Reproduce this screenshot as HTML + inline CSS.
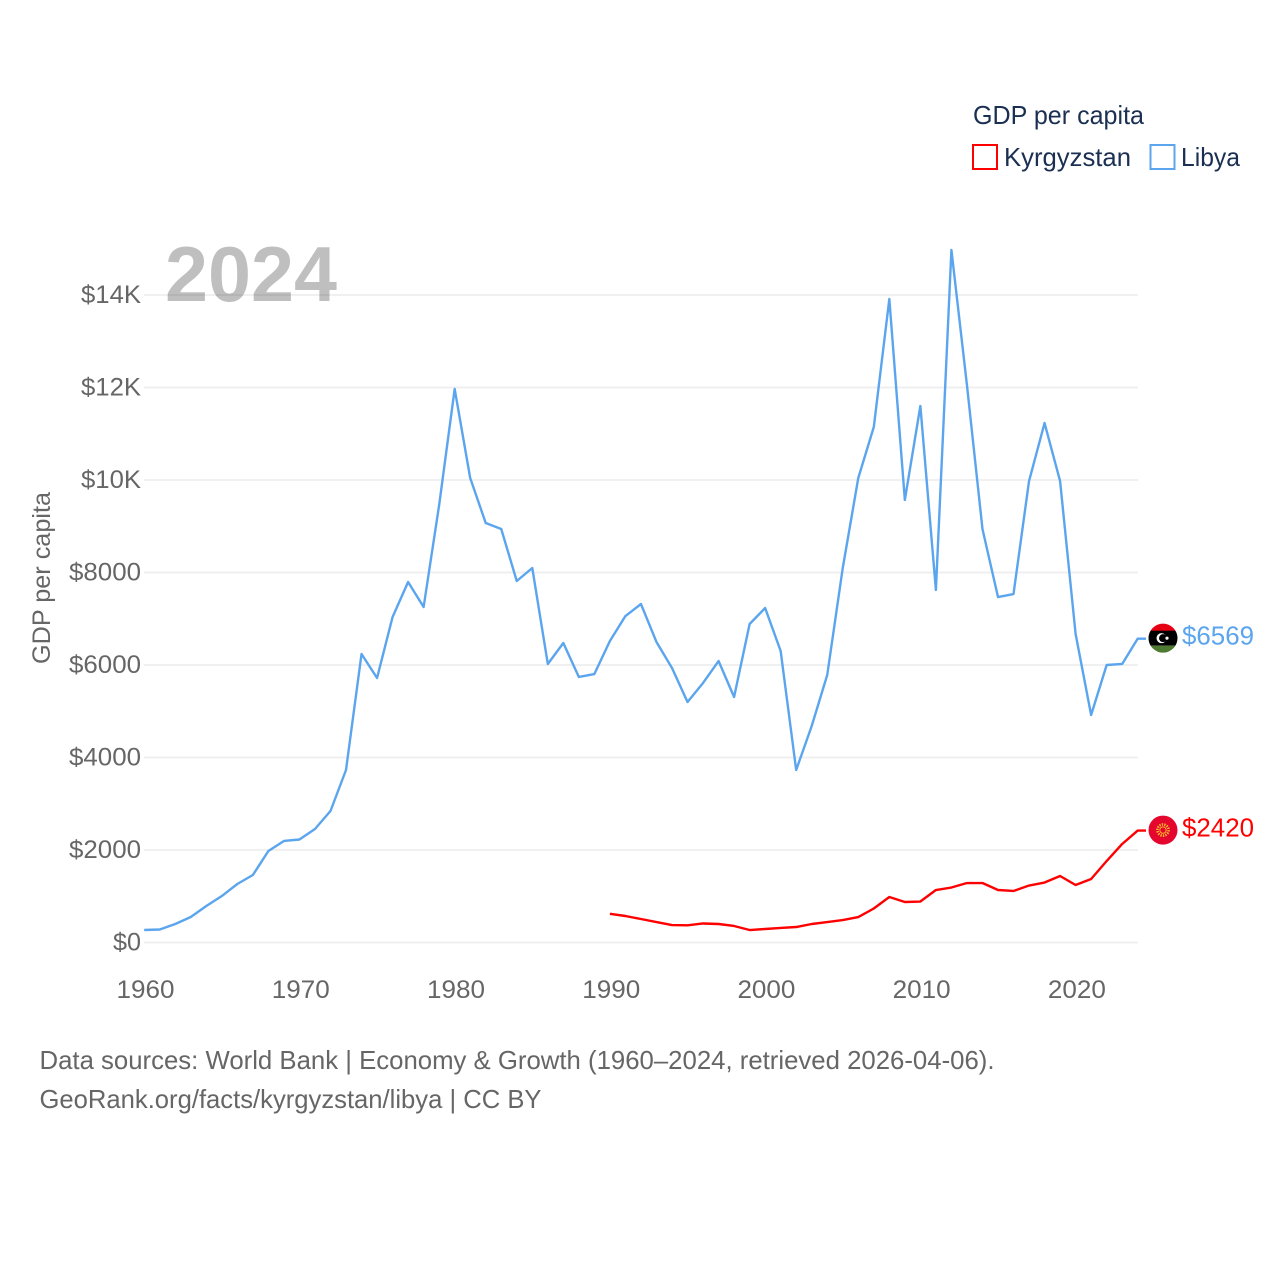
<!DOCTYPE html>
<html lang="en">
<head>
<meta charset="utf-8">
<title>GDP per capita: Kyrgyzstan and Libya</title>
<style>
html,body{margin:0;padding:0;background:#fff;width:1280px;height:1280px;overflow:hidden}
svg{display:block;font-family:"Liberation Sans",sans-serif}
</style>
</head>
<body>
<svg id="chart" xmlns="http://www.w3.org/2000/svg" width="1280" height="1280" viewBox="0 0 1280 1280">
  <rect width="1280" height="1280" fill="#fff"/>
  <defs>
    <clipPath id="flag-clip-a"><circle cx="0" cy="0" r="14.5"/></clipPath>
  </defs>
  <g id="grid"></g>
  <text x="165" y="301" font-size="78" font-weight="700" fill="#000" fill-opacity="0.25" textLength="172" lengthAdjust="spacingAndGlyphs">2024</text>
  <g id="yticks"></g>
  <g id="xticks"></g>
  <text transform="translate(50,578) rotate(-90)" text-anchor="middle" font-size="25" fill="#666" textLength="172" lengthAdjust="spacingAndGlyphs">GDP per capita</text>
  <g id="series"></g>
  <g id="end-labels"></g>
  <g>
    <text x="973" y="124" font-size="26" fill="#1a2f52" textLength="171" lengthAdjust="spacingAndGlyphs">GDP per capita</text>
    <rect x="973" y="145" width="24" height="24" fill="#fff" stroke="#ff0000" stroke-width="2"/>
    <text x="1004" y="166" font-size="26" fill="#1a2f52" textLength="127" lengthAdjust="spacingAndGlyphs">Kyrgyzstan</text>
    <rect x="1150.5" y="145" width="24" height="24" fill="#fff" stroke="#5ba5ee" stroke-width="2"/>
    <text x="1181" y="166" font-size="26" fill="#1a2f52" textLength="59" lengthAdjust="spacingAndGlyphs">Libya</text>
  </g>
  <text x="39.5" y="1069" font-size="26" fill="#666" textLength="955" lengthAdjust="spacingAndGlyphs">Data sources: World Bank | Economy &amp; Growth (1960–2024, retrieved 2026-04-06).</text>
  <text x="39.5" y="1108" font-size="26" fill="#666" textLength="502" lengthAdjust="spacingAndGlyphs">GeoRank.org/facts/kyrgyzstan/libya | CC BY</text>
</svg>
<script>
const libyaYears = [1960,1961,1962,1963,1964,1965,1966,1967,1968,1969,1970,1971,1972,1973,1974,1975,1976,1977,1978,1979,1980,1981,1982,1983,1984,1985,1986,1987,1988,1989,1990,1991,1992,1993,1994,1995,1996,1997,1998,1999,2000,2001,2002,2003,2004,2005,2006,2007,2008,2009,2010,2011,2012,2013,2014,2015,2016,2017,2018,2019,2020,2021,2022,2023,2024];
const libyaValues = [270,281,400,551,789,1005,1265,1459,1978,2195,2227,2454,2843,3730,6238,5719,7038,7795,7254,9459,11968,10043,9070,8941,7816,8097,6022,6476,5741,5805,6519,7059,7319,6497,5935,5200,5611,6086,5308,6886,7232,6303,3730,4681,5784,8097,10043,11146,13914,9568,11600,7622,14973,12054,8941,7470,7535,9978,11232,9978,6670,4919,6000,6022,6569];
const kyrgyzYears = [1990,1991,1992,1993,1994,1995,1996,1997,1998,1999,2000,2001,2002,2003,2004,2005,2006,2007,2008,2009,2010,2011,2012,2013,2014,2015,2016,2017,2018,2019,2020,2021,2022,2023,2024];
const kyrgyzValues = [620,573,508,443,378,372,411,400,357,270,292,314,335,400,443,486,551,735,984,876,886,1135,1189,1286,1286,1135,1114,1232,1297,1438,1243,1373,1762,2130,2420];
const yTickValues = [0,2000,4000,6000,8000,10000,12000,14000];
const yTickLabels = ["$0","$2000","$4000","$6000","$8000","$10K","$12K","$14K"];
const yTickWidths = [28,72,72,72,72,60,60,60];
const xTickYears = [1960,1970,1980,1990,2000,2010,2020];

const NS = "http://www.w3.org/2000/svg";
const xScale = function (year) { return 144.2 + (year - 1960) * (1137.7 - 144.2) / 64; };
const yScale = function (value) { return 942.5 - value * (942.5 - 295) / 14000; };
const make = function (tag, parent) {
  const el = document.createElementNS(NS, tag);
  parent.appendChild(el);
  return el;
};

const gridGroup = document.getElementById("grid");
const yGroup = document.getElementById("yticks");
yTickValues.forEach(function (v, i) {
  const line = make("line", gridGroup);
  
  
  line.setAttribute("x1", 144);
  line.setAttribute("x2", 1138);
  line.setAttribute("y1", yScale(v));
  line.setAttribute("y2", yScale(v));
  line.setAttribute("stroke", "#eeeeee");
  line.setAttribute("stroke-width", 1.7);
  const t = make("text", yGroup);
  
  
  t.setAttribute("x", 141);
  t.setAttribute("y", yScale(v) + 8);
  t.setAttribute("text-anchor", "end");
  t.setAttribute("font-size", 25);
  t.setAttribute("fill", "#666");
  t.setAttribute("textLength", yTickWidths[i]);
  t.setAttribute("lengthAdjust", "spacingAndGlyphs");
  t.textContent = yTickLabels[i];
});

const xGroup = document.getElementById("xticks");
xTickYears.forEach(function (yr) {
  const t = make("text", xGroup);
  
  
  t.setAttribute("x", xScale(yr) + 1.3);
  t.setAttribute("y", 998);
  t.setAttribute("text-anchor", "middle");
  t.setAttribute("font-size", 25);
  t.setAttribute("fill", "#666");
  t.setAttribute("textLength", 58);
  t.setAttribute("lengthAdjust", "spacingAndGlyphs");
  t.textContent = String(yr);
});

const seriesGroup = document.getElementById("series");
const drawLine = function (years, values, color) {
  const pts = years.map(function (y, i) { return xScale(y).toFixed(2) + "," + yScale(values[i]).toFixed(2); });
  const last = yScale(values[values.length - 1]).toFixed(2);
  pts.push("1146," + last);
  const p = make("polyline", seriesGroup);
  p.setAttribute("points", pts.join(" "));
  p.setAttribute("fill", "none");
  p.setAttribute("stroke", color);
  p.setAttribute("stroke-width", 2.4);
  p.setAttribute("stroke-linejoin", "round");
  return p;
};
const libyaLine = drawLine(libyaYears, libyaValues, "#5ba5ee");


const kyrgyzLine = drawLine(kyrgyzYears, kyrgyzValues, "#ff0000");



const endGroup = document.getElementById("end-labels");
const rectIn = function (g, y, h, fill) {
  const r = make("rect", g);
  r.setAttribute("x", -15);
  r.setAttribute("y", y);
  r.setAttribute("width", 30);
  r.setAttribute("height", h);
  r.setAttribute("fill", fill);
};

const libyaEnd = libyaValues[libyaValues.length - 1];
const libyaFlag = make("g", endGroup);


libyaFlag.setAttribute("transform", "translate(1163," + (yScale(libyaEnd) - 0.5) + ")");
const libyaClip = make("g", libyaFlag);
libyaClip.setAttribute("clip-path", "url(#flag-clip-a)");
rectIn(libyaClip, -15, 8, "#e70013");
rectIn(libyaClip, -7.5, 15, "#000000");
rectIn(libyaClip, 7.5, 8, "#4f7a32");
const moon = make("circle", libyaFlag);
moon.setAttribute("cx", -1.5);
moon.setAttribute("cy", 0);
moon.setAttribute("r", 5);
moon.setAttribute("fill", "#fff");
const moonCut = make("circle", libyaFlag);
moonCut.setAttribute("cx", 0);
moonCut.setAttribute("cy", 0);
moonCut.setAttribute("r", 4);
moonCut.setAttribute("fill", "#000");
const star = make("circle", libyaFlag);
star.setAttribute("cx", 4);
star.setAttribute("cy", 0);
star.setAttribute("r", 1.6);
star.setAttribute("fill", "#fff");
const libyaValueLabel = make("text", endGroup);


libyaValueLabel.setAttribute("x", 1182);
libyaValueLabel.setAttribute("y", yScale(libyaEnd) + 6);
libyaValueLabel.setAttribute("font-size", 26);
libyaValueLabel.setAttribute("fill", "#5ba5ee");
libyaValueLabel.setAttribute("textLength", 72);
libyaValueLabel.setAttribute("lengthAdjust", "spacingAndGlyphs");
libyaValueLabel.textContent = "$" + libyaEnd;

const kyrgyzEnd = kyrgyzValues[kyrgyzValues.length - 1];
const kyrgyzFlag = make("g", endGroup);


kyrgyzFlag.setAttribute("transform", "translate(1163," + (yScale(kyrgyzEnd) - 0.5) + ")");
const kyrgyzDisc = make("circle", kyrgyzFlag);
kyrgyzDisc.setAttribute("r", 14.5);
kyrgyzDisc.setAttribute("fill", "#e4062d");
const sunRays = make("circle", kyrgyzFlag);
sunRays.setAttribute("r", 5.6);
sunRays.setAttribute("fill", "none");
sunRays.setAttribute("stroke", "#f7b32b");
sunRays.setAttribute("stroke-width", 2.6);
sunRays.setAttribute("stroke-dasharray", "1.4 1.1");
const sunRing = make("circle", kyrgyzFlag);
sunRing.setAttribute("r", 3.2);
sunRing.setAttribute("fill", "none");
sunRing.setAttribute("stroke", "#f7b32b");
sunRing.setAttribute("stroke-width", 1);
const kyrgyzValueLabel = make("text", endGroup);


kyrgyzValueLabel.setAttribute("x", 1182);
kyrgyzValueLabel.setAttribute("y", yScale(kyrgyzEnd) + 6);
kyrgyzValueLabel.setAttribute("font-size", 26);
kyrgyzValueLabel.setAttribute("fill", "#ff0000");
kyrgyzValueLabel.setAttribute("textLength", 72);
kyrgyzValueLabel.setAttribute("lengthAdjust", "spacingAndGlyphs");
kyrgyzValueLabel.textContent = "$" + kyrgyzEnd;
</script>
</body>
</html>
